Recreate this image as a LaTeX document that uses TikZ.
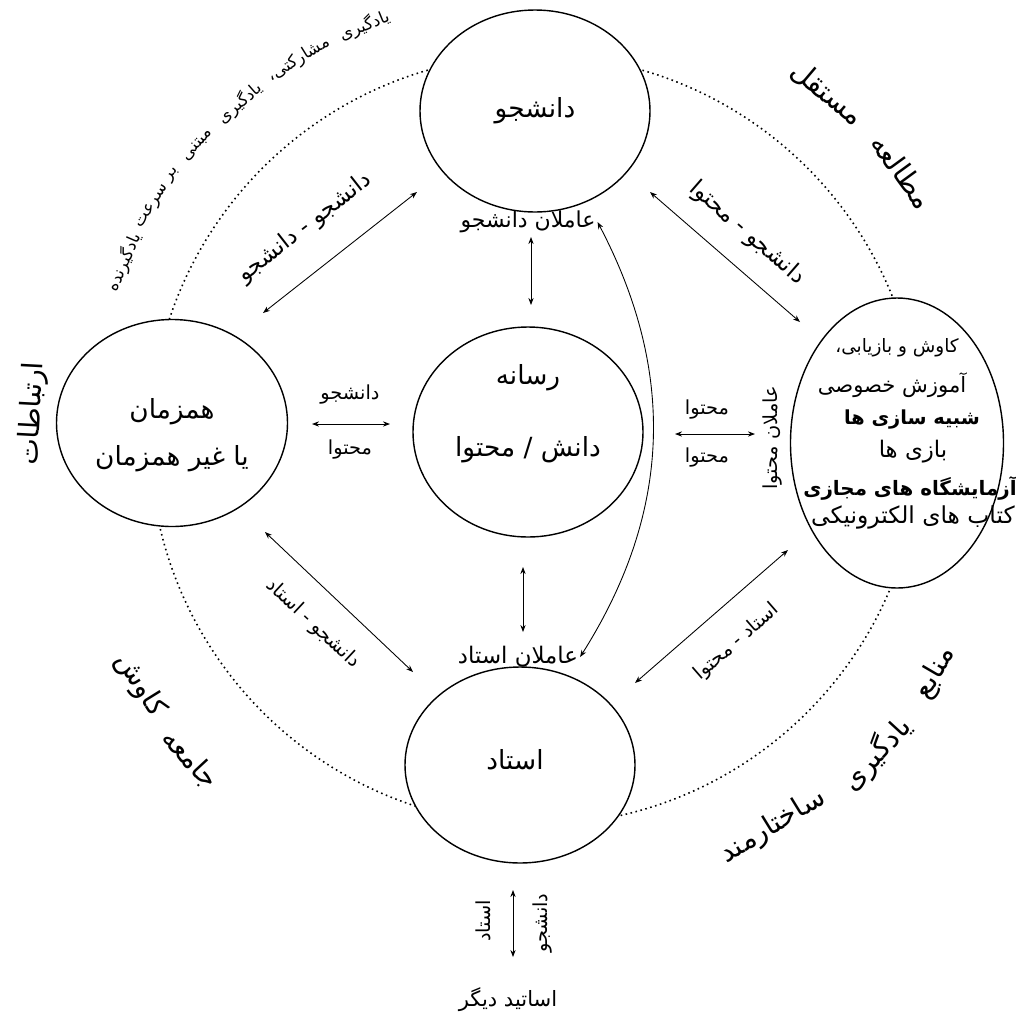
\documentclass[tikz,border=0pt]{standalone}
\usepackage{fontspec}
\newfontfamily\arabicfont[Script=Arabic]{DejaVu Sans}
\TeXXeTstate=1
\usetikzlibrary{shapes.geometric,arrows.meta}
\newcommand{\fa}[1]{{\arabicfont\beginR #1\endR}}

\begin{document}
\begin{tikzpicture}[
  role/.style={draw, ellipse, fill=white, line width=0.8pt, inner sep=0pt},
  roletxt/.style={inner sep=0pt, align=center, font=\fontsize{15}{18}\selectfont},
  lbl/.style={inner sep=1pt, font=\fontsize{11}{13}\selectfont},
  ringtxt/.style={inner sep=0pt, font=\fontsize{16}{19}\selectfont},
  link/.style={{Stealth[length=4pt,width=3pt]}-{Stealth[length=4pt,width=3pt]}, line width=0.5pt}]
\useasboundingbox (0,0) rectangle (20.32,-20.72);
% dotted ring
\coordinate (O) at (10.7,-8.8);
\draw[dotted, line width=0.9pt] (O) circle (7.7);
% main roles
\node[role, minimum width=4.6cm, minimum height=4.04cm] (stu) at (10.7,-2.22) {};
\node[roletxt] (stutxt) at (stu.center) {\fa{دانشجو}};
\node[role, minimum width=4.62cm, minimum height=4.14cm] (syn) at (3.44,-8.46) {};
\node[roletxt] (syntxt) at ([yshift=-0.24cm]syn.center) {\fa{همزمان}\\[9pt]\fa{یا غیر همزمان}};
\node[role, minimum width=4.6cm, minimum height=4.2cm] (med) at (10.56,-8.64) {};
\node[roletxt] (medtxt) at ([yshift=0.36cm]med.center) {\fa{رسانه}\\[0.8cm]\fa{دانش / محتوا}};
\node[role, minimum width=4.26cm, minimum height=5.8cm] (res) at (17.94,-8.86) {};
\node[inner sep=0pt, font=\fontsize{10.5}{12}\selectfont] (res1) at (17.94,-6.96) {\fa{کاوش و بازیابی،}};
\node[inner sep=0pt, font=\fontsize{12}{14}\selectfont] (res2) at (17.84,-7.70) {\fa{آموزش خصوصی}};
\node[inner sep=0pt, font=\fontsize{11}{13}\selectfont\bfseries] (res3) at (18.24,-8.40) {\fa{شبیه سازی ها}};
\node[inner sep=0pt, font=\fontsize{13}{15}\selectfont] (res4) at (18.26,-9.04) {\fa{بازی ها}};
\node[inner sep=0pt, font=\fontsize{11.3}{13}\selectfont\bfseries] (res5) at (18.2,-9.76) {\fa{آزمایشگاه های مجازی}};
\node[inner sep=0pt, font=\fontsize{13.3}{15}\selectfont] (res6) at (18.26,-10.34) {\fa{کتاب های الکترونیکی}};
\node[role, minimum width=4.6cm, minimum height=3.92cm] (tea) at (10.4,-15.3) {};
\node[roletxt] (teatxt) at ([xshift=-0.1cm,yshift=0.1cm]tea.center) {\fa{استاد}};
\node[lbl, font=\fontsize{12}{14}\selectfont] (oth) at (10.16,-20.0) {\fa{اساتید دیگر}};
% agents
\node[lbl, font=\fontsize{12.5}{14}\selectfont] (ads) at (10.56,-4.44) {\fa{عاملان دانشجو}};
\node[lbl, font=\fontsize{13}{15}\selectfont] (aos) at (10.36,-13.14) {\fa{عاملان استاد}};
\node[lbl, rotate=90] (acn) at (15.46,-8.76) {\fa{عاملان محتوا}};
% connector ends
\coordinate (tl1) at (5.26,-6.26);  \coordinate (tl2) at (8.34,-3.84);
\coordinate (tr1) at (13.0,-3.84);  \coordinate (tr2) at (16.0,-6.44);
\coordinate (tc1) at (10.62,-4.74); \coordinate (tc2) at (10.62,-6.1);
\coordinate (cb1) at (10.46,-11.34);\coordinate (cb2) at (10.46,-12.64);
\coordinate (lc1) at (6.24,-8.48);  \coordinate (lc2) at (7.8,-8.48);
\coordinate (cr1) at (13.5,-8.68);  \coordinate (cr2) at (15.1,-8.68);
\coordinate (bl1) at (5.3,-10.64);  \coordinate (bl2) at (8.26,-13.44);
\coordinate (br1) at (15.76,-11.0); \coordinate (br2) at (12.7,-13.66);
\coordinate (bo1) at (10.26,-17.8); \coordinate (bo2) at (10.26,-19.14);
\draw[link] (tl1) -- (tl2);
\node[lbl, font=\fontsize{13}{15}\selectfont, rotate=38] (tlt) at (6.1,-4.56) {\fa{دانشجو - دانشجو}};
\draw[link] (tr1) -- (tr2);
\node[lbl, font=\fontsize{13}{15}\selectfont, rotate=-41] (trt) at (14.94,-4.66) {\fa{دانشجو - محتوا}};
\draw[link] (tc1) -- (tc2);
\draw[link] (cb1) -- (cb2);
\draw[link] (lc1) -- (lc2);
\node[lbl] (lct) at (7.0,-7.9) {\fa{دانشجو}};
\node[lbl] (lcb) at (7.0,-9.0) {\fa{محتوا}};
\draw[link] (cr1) -- (cr2);
\node[lbl] (crt) at (14.14,-8.2) {\fa{محتوا}};
\node[lbl] (crb) at (14.14,-9.16) {\fa{محتوا}};
\draw[link] (bl1) -- (bl2);
\node[lbl, rotate=-43] (blt) at (6.26,-12.48) {\fa{دانشجو - استاد}};
\draw[link] (br1) -- (br2);
\node[lbl, rotate=41] (brt) at (14.74,-12.84) {\fa{استاد - محتوا}};
\draw[link] (aos.east) to[bend right=30] (ads.east);
\draw[link] (bo1) -- (bo2);
\node[lbl, rotate=90] (bot1) at (9.66,-18.42) {\fa{استاد}};
\node[lbl, rotate=90] (bot2) at (10.86,-18.46) {\fa{دانشجو}};
% text round the ring
\foreach \a/\w [count=\i] in {112.4/یادگیری, 121.8/مشارکتی،, 131.2/یادگیری, 138.8/مبتنی,
    143.8/بر, 148.6/سرعت, 156.6/یادگیرنده}
  \node[lbl, font=\fontsize{9.5}{11}\selectfont, rotate=\a-90] (tw\i) at ([shift={(\a:8.96)}]O) {\fa{\w}};
\foreach \a/\r/\w [count=\i] in {49.8/9.06/مستقل, 36.2/9.1/مطالعه, 177/10.06/ارتباطات}
  \node[ringtxt, rotate=\a-90] (rw\i) at ([shift={(\a:\r)}]O) {\fa{\w}};
\foreach \a/\r/\w [count=\i] in {211.8/9.3/کاوش, 222.8/9.4/جامعه,
    -30.2/9.26/منابع, -42.6/9.28/یادگیری, -58.4/9.08/ساختارمند}
  \node[ringtxt, rotate=\a+90] (bw\i) at ([shift={(\a:\r)}]O) {\fa{\w}};
\end{tikzpicture}
\end{document}
